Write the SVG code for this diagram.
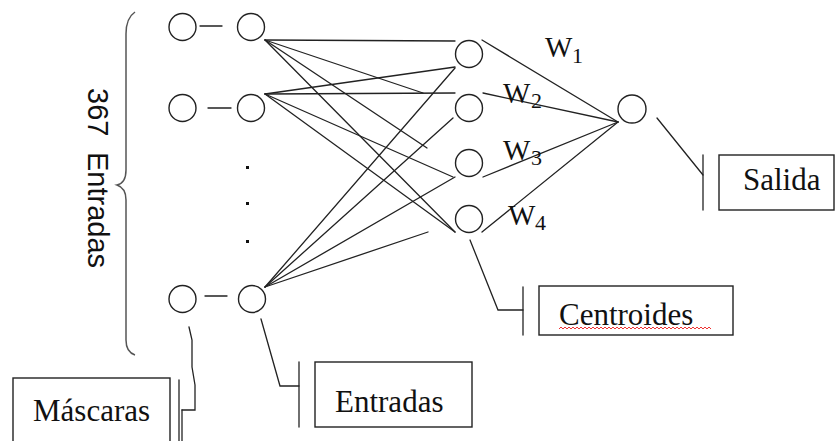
<svg xmlns="http://www.w3.org/2000/svg" width="837" height="441" viewBox="0 0 837 441">
<style>
.n{fill:none;stroke:#222;stroke-width:1.4}
.c{fill:none;stroke:#222;stroke-width:1.3;stroke-linecap:round}
.b{fill:#fff;stroke:#222;stroke-width:1.4}
.t{font-family:"Liberation Serif","Times New Roman",serif;font-size:31px;fill:#111}
.w{font-family:"Liberation Serif","Times New Roman",serif;font-size:29px;fill:#111}
.ws{font-family:"Liberation Serif","Times New Roman",serif;font-size:22px;fill:#111}
.s{font-family:"Liberation Sans",Arial,sans-serif;font-size:29px;fill:#111}
</style>
<rect width="837" height="441" fill="#fff"/>
<g id="brace">
<path d="M135,12 Q126,18 126,34 L126,170 Q126,183 117,185 Q126,188 126,200 L126,340 Q126,352 135,355" fill="none" stroke="#555" stroke-width="1.5"/>
<text class="s" transform="translate(88,88) rotate(90)"><tspan x="0" y="0">367</tspan><tspan x="64" y="0">Entradas</tspan></text>
</g>
<g id="connectors">
<!-- mask to input dashes -->
<line class="c" x1="200" y1="26" x2="222" y2="26"/>
<line class="c" x1="208" y1="108" x2="231" y2="108"/>
<line class="c" x1="205" y1="296" x2="227" y2="296"/>
<!-- input A -->
<line class="c" x1="265" y1="40" x2="455" y2="41"/>
<line class="c" x1="265" y1="40" x2="423" y2="93"/>
<line class="c" x1="265" y1="40" x2="427" y2="148"/>
<line class="c" x1="265" y1="40" x2="455" y2="232"/>
<!-- input B -->
<line class="c" x1="265" y1="94" x2="455" y2="67"/>
<line class="c" x1="265" y1="94" x2="455" y2="93"/>
<line class="c" x1="265" y1="94" x2="453" y2="177"/>
<line class="c" x1="265" y1="94" x2="455" y2="232"/>
<!-- input C -->
<line class="c" x1="265" y1="287" x2="455" y2="68"/>
<line class="c" x1="265" y1="287" x2="453" y2="118"/>
<line class="c" x1="265" y1="287" x2="455" y2="177"/>
<line class="c" x1="265" y1="287" x2="428" y2="232"/>
<!-- hidden to output -->
<line class="c" x1="482" y1="40" x2="618" y2="122"/>
<line class="c" x1="483" y1="93" x2="618" y2="122"/>
<line class="c" x1="483" y1="177" x2="618" y2="122"/>
<line class="c" x1="482" y1="232" x2="618" y2="122"/>
<!-- label leaders -->
<line class="c" x1="657" y1="118" x2="703" y2="175"/>
<line class="c" x1="703" y1="155" x2="703" y2="210"/>
<polyline class="c" points="470,240 498,310 523,310"/>
<line class="c" x1="523" y1="287" x2="523" y2="335"/>
<polyline class="c" points="261,319 280,386 299,386"/>
<line class="c" x1="299" y1="362" x2="299" y2="427"/>
<polyline class="c" points="189,327 192,340 192,367 195,385 195,410 182,410"/>
<line class="c" x1="179" y1="380" x2="179" y2="441"/>
<line class="c" x1="182" y1="410" x2="182" y2="441"/>
</g>
<g id="mask1"><circle class="n" cx="182.5" cy="27" r="13.5"/></g>
<g id="mask2"><circle class="n" cx="182.5" cy="108" r="13.5"/></g>
<g id="mask3"><circle class="n" cx="182.5" cy="299" r="13.5"/></g>
<g id="in1"><circle class="n" cx="251" cy="27" r="13.5"/></g>
<g id="in2"><circle class="n" cx="251" cy="108" r="13.5"/></g>
<g id="in3"><circle class="n" cx="252" cy="299" r="13.5"/></g>
<g id="dots" fill="#111">
<rect x="246" y="166" width="3" height="3"/>
<rect x="246" y="202" width="3" height="3"/>
<rect x="246" y="240" width="3" height="3"/>
</g>
<g id="h1"><circle class="n" cx="469" cy="54" r="13.5"/></g>
<g id="h2"><circle class="n" cx="469" cy="108" r="13.5"/></g>
<g id="h3"><circle class="n" cx="469" cy="163" r="13.5"/></g>
<g id="h4"><circle class="n" cx="469" cy="219" r="13.5"/></g>
<g id="out"><circle class="n" cx="632" cy="109" r="14"/></g>
<g id="weights">
<text class="w" x="545" y="57">W</text><text class="ws" x="572" y="63">1</text>
<text class="w" x="503" y="103">W</text><text class="ws" x="531" y="108">2</text>
<text class="w" x="503" y="160">W</text><text class="ws" x="531" y="165">3</text>
<text class="w" x="508" y="225">W</text><text class="ws" x="535" y="230">4</text>
</g>
<g id="salida">
<rect class="b" x="719" y="155" width="115" height="55"/>
<text class="t" x="743" y="190">Salida</text>
</g>
<g id="centroides">
<rect class="b" x="539" y="286" width="194" height="49"/>
<text class="t" x="559" y="325">Centroides</text>
<path d="M559,329 l2,-2 l2,2 l2,-2 l2,2 l2,-2 l2,2 l2,-2 l2,2 l2,-2 l2,2 l2,-2 l2,2 l2,-2 l2,2 l2,-2 l2,2 l2,-2 l2,2 l2,-2 l2,2 l2,-2 l2,2 l2,-2 l2,2 l2,-2 l2,2 l2,-2 l2,2 l2,-2 l2,2 l2,-2 l2,2 l2,-2 l2,2 l2,-2 l2,2 l2,-2 l2,2 l2,-2 l2,2 l2,-2 l2,2 l2,-2 l2,2 l2,-2 l2,2 l2,-2 l2,2 l2,-2 l2,2 l2,-2 l2,2 l2,-2 l2,2 l2,-2 l2,2 l2,-2 l2,2 l2,-2 l2,2 l2,-2 l2,2 l2,-2 l2,2 l2,-2 l2,2 l2,-2 l2,2 l2,-2 l2,2 l2,-2 l2,2 l2,-2 l2,2 l2,-2 l2,2" fill="none" stroke="#e33" stroke-width="1"/>
</g>
<g id="entradas">
<rect class="b" x="315" y="362" width="157" height="65"/>
<text class="t" x="335" y="412">Entradas</text>
</g>
<g id="mascaras">
<rect class="b" x="13" y="378" width="157" height="80"/>
<text class="t" x="33" y="421">Máscaras</text>
</g>
</svg>
